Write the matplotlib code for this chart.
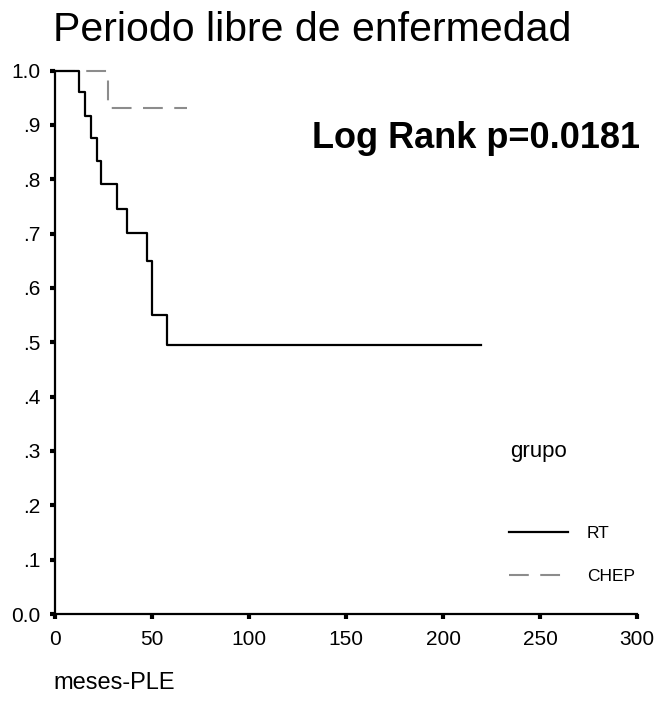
import numpy as np
import matplotlib.pyplot as plt
from matplotlib.lines import Line2D

plt.rcParams['font.family'] = ['Liberation Sans', 'DejaVu Sans']

# Kaplan-Meier steps (months, survival)
rt_t = [0, 12.4, 15.5, 18.4, 21.5, 23.5, 31.8, 36.9, 47.3, 49.8, 57.5, 219.6]
rt_s = [1.0, 0.96, 0.916, 0.875, 0.834, 0.791, 0.746, 0.701, 0.650, 0.551, 0.495, 0.495]

chep_t = [0, 27.5, 68]
chep_s = [1.0, 0.931, 0.931]

groups = ['RT', 'CHEP']
xticks = [0, 50, 100, 150, 200, 250, 300]
yticks = [0.0, 0.1, 0.2, 0.3, 0.4, 0.5, 0.6, 0.7, 0.8, 0.9, 1.0]
ylabels = ['0.0', '.1', '.2', '.3', '.4', '.5', '.6', '.7', '.8', '.9', '1.0']

gray = '#8c8c8c'

fig = plt.figure(figsize=(6.57, 7.22), dpi=100)
ax = fig.add_axes([55/657, 1-614/722, 582/657, 543.5/722])

ax.step(chep_t, chep_s, where='post', color=gray, lw=1.5, dashes=(9.5, 5.5), clip_on=False)
ax.step(rt_t, rt_s, where='post', color='black', lw=1.6, clip_on=False)

ax.set_xlim(0, 300)
ax.set_ylim(0, 1.0)
ax.set_xticks(xticks)
ax.set_yticks(yticks)
ax.set_yticklabels(ylabels)
ax.tick_params(direction='out', length=3.5, width=3, labelsize=15, pad=7, colors='black')
ax.tick_params(axis='x', pad=8)
for s in ['top', 'right']:
    ax.spines[s].set_visible(False)
for s in ['left', 'bottom']:
    ax.spines[s].set_linewidth(1.6)

fig.text(53/657, 1-41/722, 'Periodo libre de enfermedad', fontsize=29.5, va='baseline', ha='left')
ax.text(1.005, 0.874, 'Log Rank p=0.0181', transform=ax.transAxes, fontsize=26,
        fontweight='bold', ha='right', va='center')
fig.text(53/657, 1-683/722, 'meses-PLE', fontsize=17, va='center', ha='left')

fig.text(510/657, 1-452/722, 'grupo', fontsize=16, va='center', ha='left')
handles = [Line2D([], [], color='black', lw=1.6),
           Line2D([], [], color=gray, lw=1.5, dashes=(9.5, 5.5))]
ax.legend(handles, groups, loc='upper left', bbox_to_anchor=(509/657, 1-526/722),
          bbox_transform=fig.transFigure, frameon=False, fontsize=12.5,
          handlelength=3.4, handletextpad=1.1, labelspacing=1.6,
          borderpad=0, borderaxespad=0)

fig.savefig('out.png', dpi=100)
